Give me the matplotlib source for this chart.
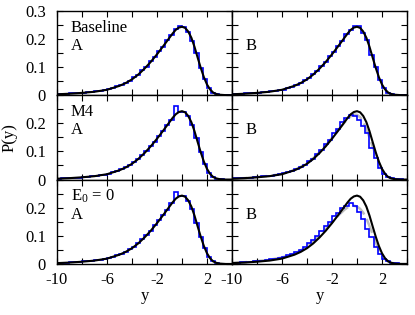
import numpy as np
import matplotlib
matplotlib.use("Agg")
import matplotlib.pyplot as plt
from matplotlib.ticker import MultipleLocator, FixedLocator

plt.rcParams['font.family'] = ['Liberation Serif', 'DejaVu Serif']
plt.rcParams['mathtext.fontset'] = 'custom'
plt.rcParams['mathtext.rm'] = 'Liberation Serif'
plt.rcParams['mathtext.it'] = 'Liberation Serif:italic'
plt.rcParams['font.size'] = 12

# smooth model curve (same in every panel)
curve_x = [-10, -9, -8, -7, -6, -5, -4.5, -4, -3.5, -3, -2.5, -2, -1.5, -1, -0.75, -0.5,
           -0.25, 0, 0.25, 0.5, 0.75, 1, 1.25, 1.5, 1.75, 2, 2.25, 2.5, 2.75, 3, 3.5, 4]
model = [0.003, 0.005, 0.008, 0.012, 0.019, 0.033, 0.043, 0.056, 0.073, 0.094, 0.118, 0.145,
         0.174, 0.204, 0.219, 0.232, 0.240, 0.243, 0.239, 0.226, 0.204, 0.172, 0.134, 0.097,
         0.064, 0.038, 0.020, 0.009, 0.004, 0.0015, 0.0, 0.0]

# gray dashed fits (B panels of M4 and E0 = 0)
fit_m4 = [0.003, 0.005, 0.009, 0.013, 0.020, 0.034, 0.045, 0.058, 0.076, 0.097, 0.121, 0.148,
          0.176, 0.203, 0.215, 0.225, 0.231, 0.230, 0.222, 0.205, 0.180, 0.150, 0.118, 0.087,
          0.059, 0.036, 0.020, 0.010, 0.005, 0.002, 0.0, 0.0]
fit_e0 = [0.004, 0.006, 0.010, 0.015, 0.023, 0.037, 0.048, 0.062, 0.080, 0.100, 0.124, 0.148,
          0.172, 0.193, 0.201, 0.206, 0.207, 0.204, 0.196, 0.182, 0.162, 0.135, 0.106, 0.077,
          0.050, 0.030, 0.017, 0.009, 0.004, 0.002, 0.0, 0.0]

# histogram bins, width 1/3 from -10 to 4
bin_edges = np.linspace(-10, 4, 43)

hist_base_a = [0.003, 0.004, 0.005, 0.006, 0.006, 0.008, 0.009, 0.010, 0.012, 0.013, 0.016,
               0.018, 0.022, 0.025, 0.031, 0.036, 0.044, 0.051, 0.063, 0.072, 0.089, 0.101,
               0.120, 0.134, 0.157, 0.172, 0.196, 0.212, 0.235, 0.245, 0.243, 0.224, 0.192,
               0.148, 0.095, 0.057, 0.024, 0.009, 0.003, 0.001, 0.0, 0.0]
hist_base_b = [0.003, 0.004, 0.004, 0.006, 0.007, 0.007, 0.009, 0.010, 0.011, 0.014, 0.015,
               0.019, 0.020, 0.027, 0.029, 0.037, 0.042, 0.053, 0.060, 0.075, 0.086, 0.104,
               0.117, 0.138, 0.153, 0.176, 0.192, 0.216, 0.230, 0.244, 0.245, 0.222, 0.197,
               0.143, 0.099, 0.054, 0.026, 0.008, 0.004, 0.001, 0.0, 0.0]
hist_m4_a = [0.003, 0.004, 0.005, 0.005, 0.007, 0.007, 0.009, 0.010, 0.011, 0.013, 0.016,
             0.017, 0.021, 0.026, 0.030, 0.037, 0.043, 0.052, 0.062, 0.072, 0.088, 0.101,
             0.119, 0.135, 0.156, 0.173, 0.195, 0.213, 0.261, 0.239, 0.240, 0.226, 0.195,
             0.146, 0.098, 0.056, 0.025, 0.009, 0.003, 0.001, 0.0, 0.0]
hist_m4_b = [0.004, 0.004, 0.005, 0.006, 0.007, 0.008, 0.009, 0.011, 0.012, 0.014, 0.016,
             0.019, 0.022, 0.027, 0.031, 0.037, 0.045, 0.052, 0.065, 0.074, 0.092, 0.104,
             0.125, 0.140, 0.165, 0.180, 0.205, 0.220, 0.230, 0.226, 0.210, 0.190, 0.165,
             0.112, 0.075, 0.040, 0.020, 0.010, 0.006, 0.003, 0.001, 0.0]
hist_e0_a = [0.003, 0.004, 0.004, 0.006, 0.006, 0.008, 0.009, 0.010, 0.012, 0.013, 0.015,
             0.018, 0.022, 0.025, 0.031, 0.036, 0.043, 0.053, 0.061, 0.074, 0.087, 0.103,
             0.118, 0.137, 0.155, 0.175, 0.193, 0.215, 0.257, 0.240, 0.242, 0.225, 0.196,
             0.145, 0.097, 0.057, 0.024, 0.009, 0.004, 0.001, 0.0, 0.0]
hist_e0_b = [0.004, 0.005, 0.006, 0.007, 0.008, 0.009, 0.011, 0.012, 0.014, 0.016, 0.019,
             0.022, 0.026, 0.031, 0.036, 0.043, 0.051, 0.062, 0.074, 0.086, 0.100, 0.118,
             0.135, 0.150, 0.170, 0.182, 0.198, 0.207, 0.215, 0.207, 0.185, 0.160, 0.125,
             0.095, 0.062, 0.035, 0.018, 0.010, 0.005, 0.003, 0.001, 0.0]

row_names = ['Baseline', 'M4', r'E$_0$ = 0']
col_names = ['A', 'B']
hists = [[hist_base_a, hist_base_b], [hist_m4_a, hist_m4_b], [hist_e0_a, hist_e0_b]]
fits = [[None, None], [None, fit_m4], [None, fit_e0]]

fig, axes = plt.subplots(3, 2, figsize=(4.15, 3.15), dpi=100)
fig.subplots_adjust(left=0.1373, right=0.9807, top=0.966, bottom=0.162, wspace=0, hspace=0)

for r in range(3):
    for c in range(2):
        ax = axes[r, c]
        if fits[r][c] is not None:
            ax.plot(curve_x, fits[r][c], color='#bdbdbd', lw=1.8, ls=(0, (6, 2)), zorder=1)
        ax.stairs(hists[r][c], bin_edges, color='#0000ff', lw=1.2, zorder=2)
        ax.plot(curve_x, model, color='black', lw=1.5, zorder=3)

        ax.set_xlim(-10, 4)
        ax.set_ylim(0, 0.3)
        ax.xaxis.set_major_locator(FixedLocator([-10, -6, -2, 2]))
        ax.xaxis.set_minor_locator(FixedLocator([-8, -4, 0, 4]))
        ax.yaxis.set_major_locator(MultipleLocator(0.1))
        ax.yaxis.set_minor_locator(MultipleLocator(0.05))
        ax.tick_params(which='both', direction='in', top=True, right=True,
                       length=4, width=0.8, labelsize=12)
        ax.tick_params(axis='y', pad=8)
        ax.tick_params(axis='x', pad=6)
        for s in ax.spines.values():
            s.set_linewidth(1.0)

        if c == 0:
            ax.set_yticks([0, 0.1, 0.2, 0.3] if r == 0 else [0, 0.1, 0.2])
            ax.set_yticklabels(['0', '0.1', '0.2', '0.3'] if r == 0 else ['0', '0.1', '0.2'])
            ax.text(0.08, 0.80, row_names[r], transform=ax.transAxes, ha='left', va='center')
        else:
            ax.tick_params(labelleft=False)
        ax.text(0.08, 0.585, col_names[c], transform=ax.transAxes, ha='left', va='center')

        if r == 2:
            ax.set_xticklabels(['-10', '-6', '-2', '2'])
            ax.set_xlabel('y', labelpad=0)
        else:
            ax.tick_params(labelbottom=False)

fig.text(10 / 415, 1 - 138 / 315, 'P(y)', rotation=90, ha='center', va='center')

fig.savefig('out.png', dpi=100)
